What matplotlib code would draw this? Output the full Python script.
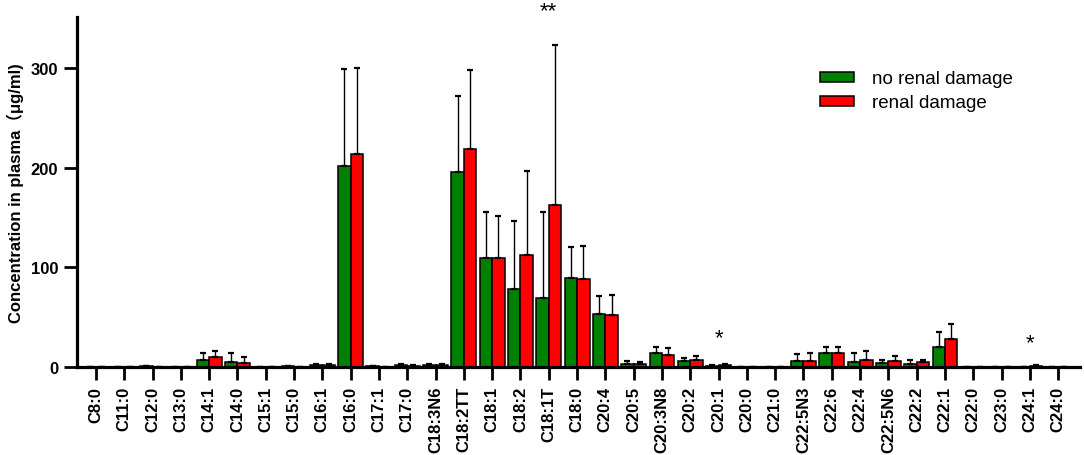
import matplotlib
matplotlib.use("Agg")
import matplotlib.pyplot as plt
import numpy as np

categories = ["C8:0", "C11:0", "C12:0", "C13:0", "C14:1", "C14:0", "C15:1", "C15:0",
              "C16:1", "C16:0", "C17:1", "C17:0", "C18:3N6", "C18:2TT", "C18:1", "C18:2",
              "C18:1T", "C18:0", "C20:4", "C20:5", "C20:3N8", "C20:2", "C20:1", "C20:0",
              "C21:0", "C22:5N3", "C22:6", "C22:4", "C22:5N6", "C22:2", "C22:1", "C22:0",
              "C23:0", "C24:1", "C24:0"]

no_damage_mean = [0, 0, 0.5, 0, 7, 5.5, 0.3, 0.7, 1.5, 202, 0.7, 1.5, 2, 196, 109, 78.5,
                  69.5, 89, 53, 3, 13.7, 5.7, 1.2, 0, 0, 6.4, 14, 5.4, 4, 3, 20.4, 0.3,
                  0, 0, 0]
no_damage_err = [0, 0, 0, 0, 7, 8.2, 0, 0, 1.5, 97, 0, 1, 1, 75.5, 46, 67.5,
                 85.5, 31, 18, 2.7, 6.7, 3.7, 0.5, 0, 0, 7, 6.4, 8.6, 3, 4.4, 15, 0,
                 0, 0, 0]
damage_mean = [0, 0, 0, 0, 10.5, 4.5, 0.3, 0.3, 2, 214, 0.3, 1, 1.5, 219, 109, 112,
               162, 88.5, 52.5, 2.5, 12.4, 7.4, 1.5, 0, 0, 6, 14, 7, 6, 4.7, 28, 0,
               0, 0.7, 0]
damage_err = [0, 0, 0, 0, 6, 5.5, 0, 0, 1.5, 86, 0, 1, 1, 78.5, 42, 85,
              161, 32.5, 19.5, 2.2, 6.6, 3.3, 1, 0, 0, 8.4, 6, 8.7, 5, 2.7, 14.8, 0,
              0, 1.3, 0]

significance = {"C18:1T": "**", "C20:1": "*", "C24:1": "*"}
sig_height = [357, 29, 24]

yticks = [0, 100, 200, 300]

GREEN = "#008000"
RED = "#FF0000"

plt.rcParams['font.family'] = ['Liberation Sans', 'Noto Sans CJK SC', 'DejaVu Sans']

fig = plt.figure(figsize=(10.84, 4.56), dpi=100)
ax = fig.add_axes([0.071, 0.193, 0.9253, 0.7675])

x = np.arange(len(categories))
w = 0.44
ax.bar(x - w / 2, no_damage_mean, w, color=GREEN, edgecolor="black", linewidth=1.1,
       yerr=[np.zeros(len(x)), no_damage_err], capsize=2.3,
       error_kw=dict(elinewidth=1.0, capthick=1.6, ecolor="black"), label="no renal damage",
       zorder=2)
ax.bar(x + w / 2, damage_mean, w, color=RED, edgecolor="black", linewidth=1.1,
       yerr=[np.zeros(len(x)), damage_err], capsize=2.3,
       error_kw=dict(elinewidth=1.0, capthick=1.6, ecolor="black"), label="renal damage",
       zorder=2)

for (cat, txt), h in zip(significance.items(), sig_height):
    i = categories.index(cat)
    ax.text(i, h, txt, ha="center", va="center", fontsize=16, clip_on=False)

ax.set_xlim(-0.67, 34.77)
ax.set_ylim(0, 351)
ax.set_yticks(yticks)
ax.set_xticks(x)
ax.set_xticklabels(categories, rotation=90, fontsize=12, fontweight="bold")
for lab in ax.get_yticklabels():
    lab.set_fontsize(12)
    lab.set_fontweight("bold")
ax.tick_params(axis="both", direction="out", length=9.5, width=2.0, pad=4)

for s in ["top", "right"]:
    ax.spines[s].set_visible(False)
for s in ["left", "bottom"]:
    ax.spines[s].set_linewidth(2.3)
    ax.spines[s].set_zorder(3)

ax.set_ylabel("Concentration in plasma（μg/ml)", fontsize=12, fontweight="bold", labelpad=5)

leg = ax.legend(loc="upper left", bbox_to_anchor=(820 / 1084, 1 - 71.5 / 456),
                bbox_transform=fig.transFigure, frameon=False, borderpad=0,
                borderaxespad=0, fontsize=13.5, handlelength=1.8, handleheight=0.43,
                handletextpad=0.96, labelspacing=0.37)

fig.savefig("out.png", dpi=100)
